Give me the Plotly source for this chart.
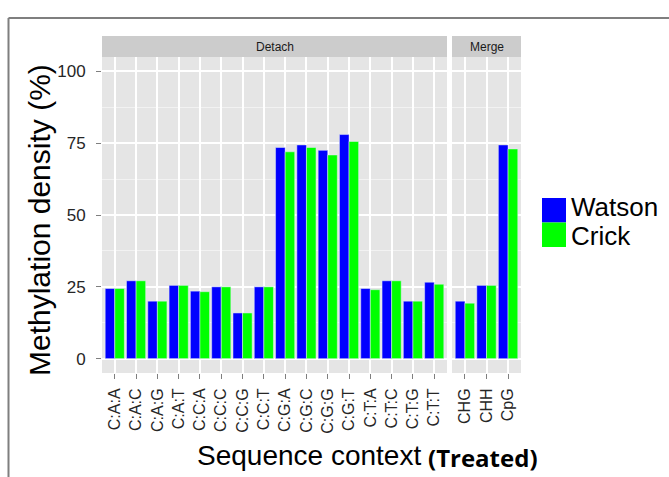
import plotly.graph_objects as go

# Methylation density by sequence context, split into two facets
detach_contexts = ["C:A:A", "C:A:C", "C:A:G", "C:A:T", "C:C:A", "C:C:C", "C:C:G", "C:C:T",
                   "C:G:A", "C:G:C", "C:G:G", "C:G:T", "C:T:A", "C:T:C", "C:T:G", "C:T:T"]
watson_detach = [24.4, 27.1, 20.0, 25.5, 23.5, 25.0, 15.9, 25.0,
                 73.5, 74.4, 72.5, 78.0, 24.4, 27.1, 20.0, 26.6]
crick_detach = [24.4, 27.1, 20.0, 25.5, 23.3, 25.0, 15.9, 25.0,
                72.0, 73.5, 70.9, 75.6, 24.0, 27.1, 20.0, 25.9]

merge_contexts = ["CHG", "CHH", "CpG"]
watson_merge = [20.0, 25.5, 74.4]
crick_merge = [19.3, 25.5, 73.0]

facet_labels = ["Detach", "Merge"]
series_names = ["Watson", "Crick"]
y_ticks = [0, 25, 50, 75, 100]

BLUE = "#0000FF"
GREEN = "#00FF00"
PANEL = "#E5E5E5"
STRIP = "#CCCCCC"
FONT = "Liberation Sans, Arial, sans-serif"

W, H = 669, 477
ML, MR, MT, MB = 102, 148, 36, 104
PW = W - ML - MR
PH = H - MT - MB


def px_x(px):
    return (px - ML) / PW


def px_y(py):
    return (H - MB - py) / PH


panel_top = px_y(57)
detach_dom = [0, px_x(447)]
merge_dom = [px_x(452), 1]

fig = go.Figure()
fig.add_trace(go.Bar(x=detach_contexts, y=watson_detach, name=series_names[0],
                     marker_color=BLUE, xaxis="x", yaxis="y"))
fig.add_trace(go.Bar(x=detach_contexts, y=crick_detach, name=series_names[1],
                     marker_color=GREEN, xaxis="x", yaxis="y"))
fig.add_trace(go.Bar(x=merge_contexts, y=watson_merge, name=series_names[0],
                     marker_color=BLUE, xaxis="x2", yaxis="y"))
fig.add_trace(go.Bar(x=merge_contexts, y=crick_merge, name=series_names[1],
                     marker_color=GREEN, xaxis="x2", yaxis="y"))

xcommon = dict(
    type="category", showgrid=True, gridcolor="white", gridwidth=1.5,
    ticks="outside", ticklen=5, tickcolor="#7F7F7F", tickangle=-90,
    tickfont=dict(family=FONT, size=16, color="#262626"),
    showline=False, zeroline=False, anchor="y", ticklabelstandoff=3,
)

fig.update_layout(
    width=W, height=H,
    margin=dict(l=ML, r=MR, t=MT, b=MB),
    paper_bgcolor="white", plot_bgcolor=PANEL,
    showlegend=False,
    barmode="group", bargap=0.1, bargroupgap=0,
    xaxis=dict(domain=detach_dom, range=[-0.6, len(detach_contexts) - 0.4], **xcommon),
    xaxis2=dict(domain=merge_dom, range=[-0.6, len(merge_contexts) - 0.4], **xcommon),
    yaxis=dict(
        domain=[0, panel_top], range=[-5, 105], anchor="x",
        tickvals=y_ticks, ticktext=[str(v) for v in y_ticks],
        showgrid=True, gridcolor="white", gridwidth=1.5, zeroline=False,
        minor=dict(tickvals=[12.5, 37.5, 62.5, 87.5], showgrid=True,
                   gridcolor="#F2F2F2", gridwidth=0.8),
        ticks="outside", ticklen=5, tickcolor="#7F7F7F", ticklabelstandoff=7,
        tickfont=dict(family=FONT, size=17, color="#262626"),
    ),
)

shapes = []
annotations = []

# facet strips
for lab, dom in zip(facet_labels, [detach_dom, merge_dom]):
    shapes.append(dict(type="rect", xref="paper", yref="paper",
                       x0=dom[0], x1=dom[1], y0=panel_top, y1=1,
                       fillcolor=STRIP, line=dict(width=0), layer="below"))
    annotations.append(dict(text=lab, xref="paper", yref="paper",
                            x=(dom[0] + dom[1]) / 2, y=(panel_top + 1) / 2,
                            xanchor="center", yanchor="middle", showarrow=False,
                            font=dict(family=FONT, size=12, color="#1A1A1A")))

# axis titles
annotations.append(dict(text="Methylation density (%)", xref="paper", yref="paper",
                        x=px_x(39), y=px_y(220), textangle=-90,
                        xanchor="center", yanchor="middle", showarrow=False,
                        font=dict(family=FONT, size=30, color="black")))
annotations.append(dict(text="Sequence context", xref="paper", yref="paper",
                        x=px_x(309), y=px_y(455),
                        xanchor="center", yanchor="middle", showarrow=False,
                        font=dict(family=FONT, size=28, color="black")))
annotations.append(dict(text="<b>(Treated)</b>", xref="paper", yref="paper",
                        x=px_x(483), y=px_y(457),
                        xanchor="center", yanchor="middle", showarrow=False,
                        font=dict(family="Open Sans, sans-serif", size=24, color="black")))

# legend keys
label_centres = [207, 236.5]
for i, (name, col) in enumerate(zip(series_names, [BLUE, GREEN])):
    top = 198 + i * 24.5
    shapes.append(dict(type="rect", xref="paper", yref="paper",
                       x0=px_x(542), x1=px_x(566), y0=px_y(top + 24.5), y1=px_y(top),
                       fillcolor=col, line=dict(width=0)))
    annotations.append(dict(text=name, xref="paper", yref="paper",
                            x=px_x(569), y=px_y(label_centres[i]),
                            xanchor="left", yanchor="middle", showarrow=False,
                            font=dict(family=FONT, size=26, color="black")))

# outer frame
shapes.append(dict(type="line", xref="paper", yref="paper",
                   x0=px_x(8.5), x1=px_x(W + 2), y0=px_y(18), y1=px_y(18),
                   line=dict(color="#7F7F7F", width=2)))
shapes.append(dict(type="line", xref="paper", yref="paper",
                   x0=px_x(8.5), x1=px_x(8.5), y0=px_y(18), y1=px_y(H + 2),
                   line=dict(color="#7F7F7F", width=2)))

fig.update_layout(shapes=shapes, annotations=annotations)

fig.write_html("out.html")
